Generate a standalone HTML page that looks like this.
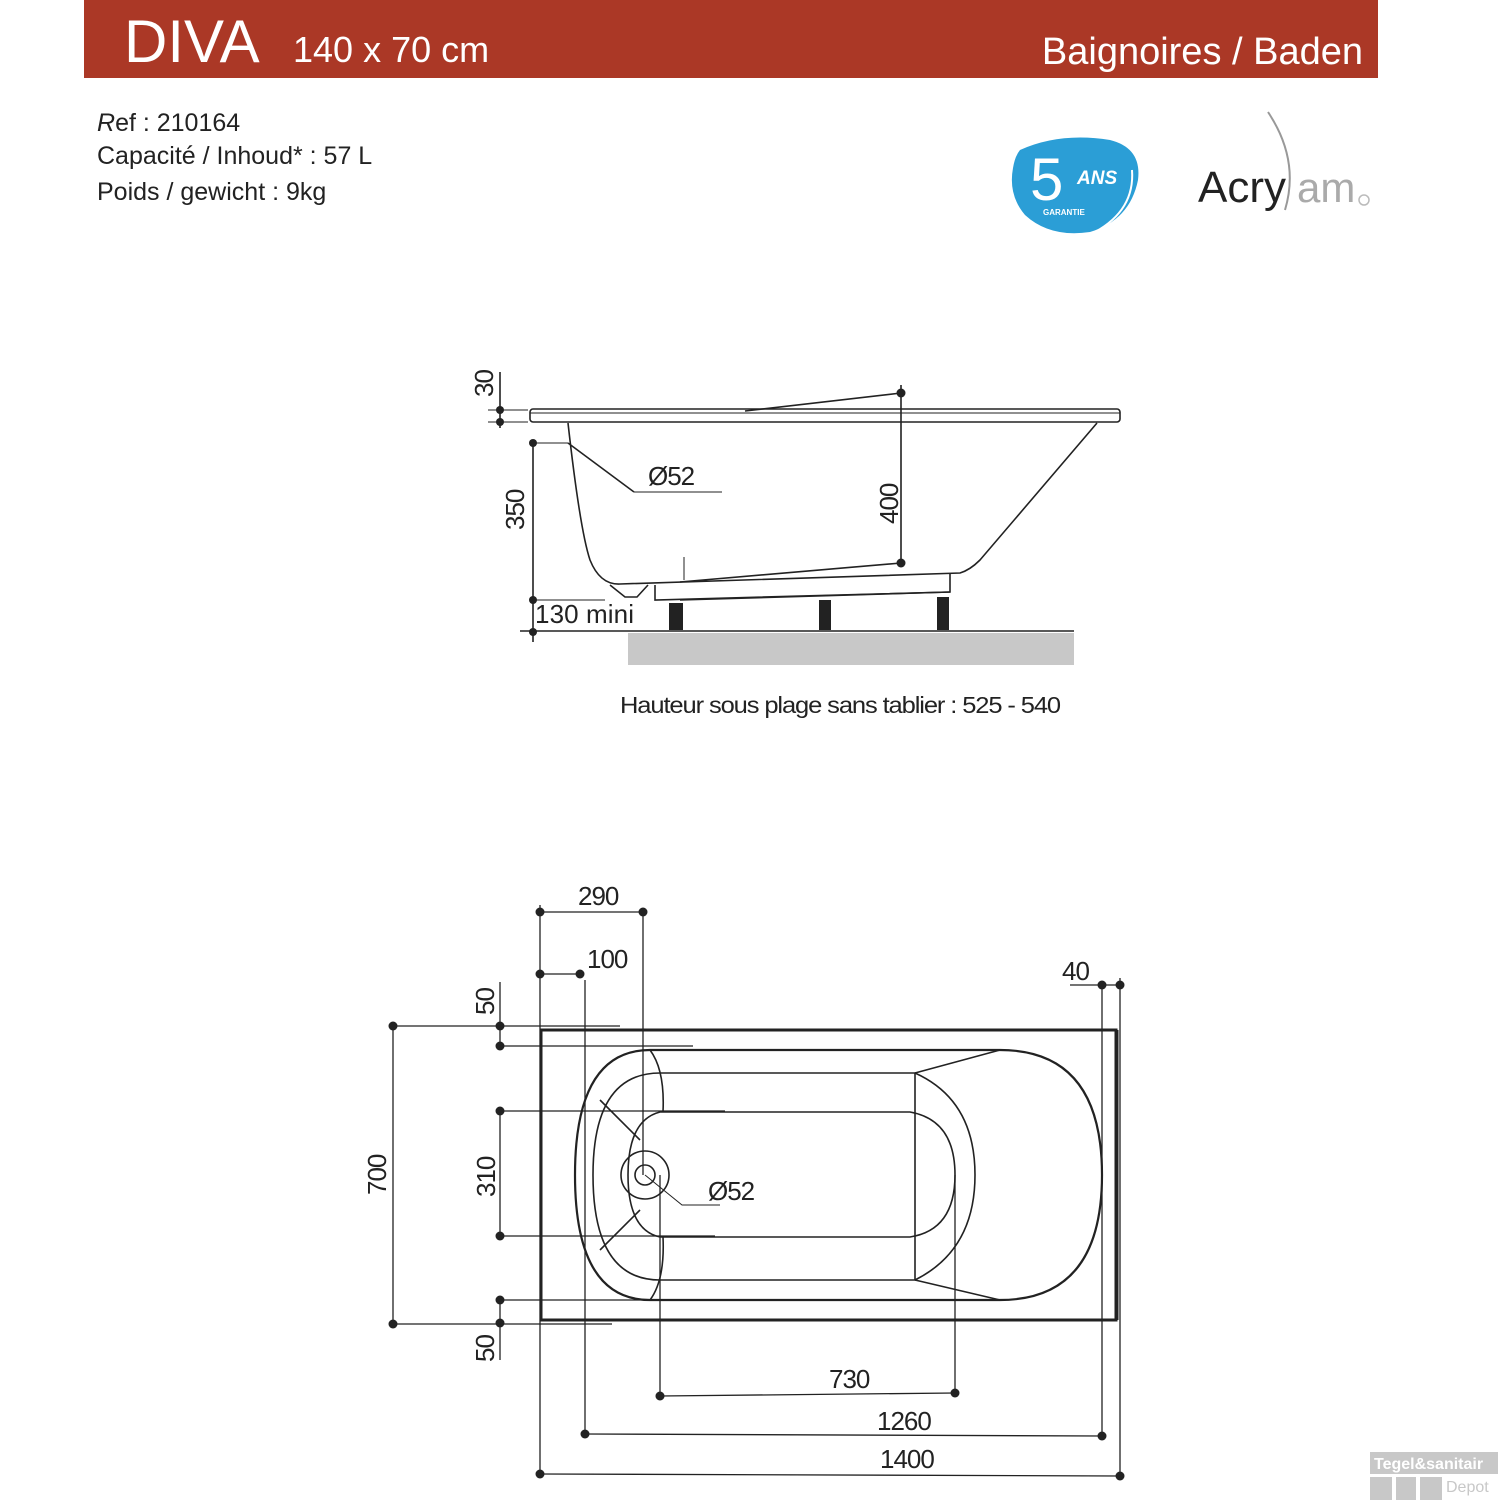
<!DOCTYPE html>
<html><head><meta charset="utf-8"><style>
html,body{margin:0;padding:0;background:#fff;width:1500px;height:1500px;overflow:hidden}
svg{display:block}
text{font-family:"Liberation Sans",sans-serif}
</style></head><body>
<svg width="1500" height="1500" viewBox="0 0 1500 1500" xmlns="http://www.w3.org/2000/svg">
<rect x="84" y="0" width="1294" height="78" fill="#ab3826"/>
<text x="124" y="62" font-size="60" fill="#fff">DIVA</text>
<text x="293" y="62" font-size="36" fill="#fff">140 x 70 cm</text>
<text x="1363" y="64" font-size="38" fill="#fff" text-anchor="end">Baignoires / Baden</text>
<g font-size="25" fill="#222">
<text x="97" y="131"><tspan font-style="italic">R</tspan>ef : 210164</text>
<text x="97" y="164">Capacité  / Inhoud* : 57 L</text>
<text x="97" y="200">Poids / gewicht : 9kg</text>
</g>
<path d="M1020 150 Q1060 132 1110 140 Q1142 148 1138 180 Q1130 220 1090 232 Q1050 238 1025 215 Q1008 195 1013 168 Q1015 156 1020 150Z" fill="#2b9ed6"/>
<path d="M1132 170 Q1135 210 1095 232" stroke="#fff" stroke-width="2" fill="none"/>
<text x="1030" y="200" font-size="60" fill="#fff">5</text>
<text x="1077" y="184" font-size="19" fill="#fff" font-weight="bold" font-style="italic">ANS</text>
<text x="1043" y="215" font-size="8" fill="#fff" font-weight="bold">GARANTIE</text>
<text x="1198" y="202" font-size="44" fill="#222">Acry</text>
<text x="1297" y="202" font-size="42" fill="#aaa">am</text>
<circle cx="1364" cy="200" r="5" fill="none" stroke="#bbb" stroke-width="1.5"/>
<path d="M1268 112 Q1300 160 1285 210" stroke="#999" stroke-width="2" fill="none"/>

<g stroke="#222" stroke-width="1.6" fill="none">
<rect x="530" y="409" width="590" height="13" rx="3"/>
<line x1="530" y1="413" x2="1120" y2="413" stroke-width="1"/>
<path d="M568 423 Q580 530 590 560 Q600 585 620 584 L960 573 Q970 570 980 560 L1097 423"/>
<path d="M610 585 L625 597 L637 597 L648 585"/>
<path d="M655 585 L655 600 L950 592 L950 573"/>
<line x1="680" y1="600" x2="950" y2="592"/>
<line x1="520" y1="631" x2="1074" y2="631"/>
<line x1="500" y1="372" x2="500" y2="428"/>
<line x1="488" y1="410" x2="528" y2="410" stroke-width="1"/>
<line x1="488" y1="422" x2="528" y2="422" stroke-width="1"/>
<line x1="533" y1="443" x2="533" y2="642"/>
<line x1="533" y1="443" x2="568" y2="443" stroke-width="1"/>
<line x1="533" y1="600" x2="605" y2="600" stroke-width="1"/>
<line x1="568" y1="443" x2="634" y2="492"/>
<line x1="634" y1="492" x2="722" y2="492" stroke-width="1"/>
<line x1="901" y1="385" x2="901" y2="563"/>
<line x1="901" y1="393" x2="745" y2="411"/>
<line x1="901" y1="563" x2="680" y2="582"/>
<line x1="684" y1="557" x2="684" y2="580" stroke-width="1"/>
</g>
<rect x="628" y="633" width="446" height="32" fill="#c8c8c8"/>
<g fill="#222">
<rect x="669" y="603" width="14" height="27"/><rect x="819" y="600" width="12" height="30"/><rect x="937" y="597" width="12" height="33"/>
<circle cx="500" cy="410" r="4"/><circle cx="500" cy="422" r="4"/>
<circle cx="533" cy="443" r="4"/><circle cx="533" cy="600" r="4"/><circle cx="533" cy="632" r="4"/>
<circle cx="901" cy="393" r="4.5"/><circle cx="901" cy="563" r="4.5"/>
</g>
<g font-size="26" fill="#222" letter-spacing="-1">
<text transform="translate(493,397) rotate(-90)">30</text>
<text transform="translate(524,530) rotate(-90)">350</text>
<text transform="translate(898,524) rotate(-90)">400</text>
<text x="648" y="485">Ø52</text>
<text x="535" y="623" textLength="98">130 mini</text>
<text x="620" y="713" font-size="23" textLength="440" lengthAdjust="spacingAndGlyphs">Hauteur sous plage sans tablier : 525 - 540</text>
</g>

<g stroke="#222" stroke-width="1.6" fill="none">
<rect x="541" y="1030" width="575" height="290" stroke-width="3"/>
<path d="M650 1050 L1000 1050 Q1102 1050 1102 1175 Q1102 1300 1000 1300 L650 1300 Q575 1300 575 1175 Q575 1050 650 1050Z" stroke-width="2.2"/>
<path d="M660 1073 L915 1073 L915 1280 L660 1280 Q593 1280 593 1175 Q593 1073 660 1073Z"/>
<path d="M915 1073 Q975 1100 975 1175 Q975 1250 915 1280"/>
<line x1="915" y1="1073" x2="1000" y2="1050"/><line x1="915" y1="1280" x2="1000" y2="1300"/>
<path d="M660 1112 L910 1112 Q955 1120 955 1175 Q955 1230 910 1237 L660 1237 Q628 1230 628 1175 Q628 1120 660 1112Z"/>
<path d="M650 1050 Q665 1070 663 1112 M650 1300 Q665 1280 663 1237 M600 1100 L640 1140 M600 1250 L640 1210"/>
<circle cx="645" cy="1175" r="24"/><circle cx="645" cy="1175" r="10"/>
<path d="M645 1175 L682 1205 L720 1205" stroke-width="1"/>
<line x1="1118" y1="1030" x2="1118" y2="1320" stroke-width="1"/>
</g>
<g stroke="#222" stroke-width="1.3" fill="none">
<line x1="540" y1="912" x2="643" y2="912"/><line x1="540" y1="974" x2="580" y2="974"/>
<line x1="540" y1="905" x2="540" y2="1478"/><line x1="585" y1="980" x2="585" y2="1436"/>
<line x1="643" y1="912" x2="643" y2="1175"/><line x1="660" y1="1175" x2="660" y2="1396"/>
<line x1="955" y1="1175" x2="955" y2="1393"/>
<line x1="660" y1="1396" x2="955" y2="1393"/>
<line x1="585" y1="1434" x2="1102" y2="1436"/>
<line x1="540" y1="1474" x2="1120" y2="1476"/>
<line x1="1070" y1="985" x2="1120" y2="985"/>
<line x1="1102" y1="985" x2="1102" y2="1436"/><line x1="1120" y1="978" x2="1120" y2="1476"/>
<line x1="393" y1="1026" x2="393" y2="1324"/>
<line x1="393" y1="1026" x2="620" y2="1026"/><line x1="393" y1="1324" x2="612" y2="1324"/>
<line x1="500" y1="982" x2="500" y2="1046"/><line x1="500" y1="1046" x2="693" y2="1046"/>
<line x1="500" y1="1111" x2="500" y2="1236"/><line x1="500" y1="1111" x2="725" y2="1111"/><line x1="500" y1="1236" x2="715" y2="1236"/>
<line x1="500" y1="1300" x2="500" y2="1360"/><line x1="500" y1="1300" x2="660" y2="1300"/>
</g>
<g fill="#222">
<circle cx="540" cy="912" r="4.5"/><circle cx="643" cy="912" r="4.5"/>
<circle cx="540" cy="974" r="4.5"/><circle cx="580" cy="974" r="4.5"/>
<circle cx="393" cy="1026" r="4.5"/><circle cx="393" cy="1324" r="4.5"/>
<circle cx="500" cy="1026" r="4.5"/><circle cx="500" cy="1046" r="4.5"/>
<circle cx="500" cy="1111" r="4.5"/><circle cx="500" cy="1236" r="4.5"/>
<circle cx="500" cy="1300" r="4.5"/><circle cx="500" cy="1323" r="4.5"/>
<circle cx="660" cy="1396" r="4.5"/><circle cx="955" cy="1393" r="4.5"/>
<circle cx="585" cy="1434" r="4.5"/><circle cx="1102" cy="1436" r="4.5"/>
<circle cx="540" cy="1474" r="4.5"/><circle cx="1120" cy="1476" r="4.5"/>
<circle cx="1102" cy="985" r="4.5"/><circle cx="1120" cy="985" r="4.5"/>
</g>
<g font-size="26" fill="#222" letter-spacing="-1">
<text x="578" y="905">290</text>
<text x="587" y="968">100</text>
<text x="1062" y="980">40</text>
<text x="708" y="1200">Ø52</text>
<text x="829" y="1388">730</text>
<text x="877" y="1430">1260</text>
<text x="880" y="1468">1400</text>
<text transform="translate(386,1195) rotate(-90)">700</text>
<text transform="translate(494,1015) rotate(-90)">50</text>
<text transform="translate(495,1197) rotate(-90)">310</text>
<text transform="translate(494,1362) rotate(-90)">50</text>
</g>
<rect x="1370" y="1452" width="128" height="22" fill="#c8c8c8"/>
<text x="1374" y="1469" font-size="16" font-weight="bold" fill="#fff">Tegel&amp;sanitair</text>
<rect x="1370" y="1477" width="22" height="23" fill="#c8c8c8"/><rect x="1396" y="1477" width="20" height="23" fill="#c8c8c8"/><rect x="1420" y="1477" width="22" height="23" fill="#c8c8c8"/>
<text x="1446" y="1492" font-size="16" fill="#c8c8c8">Depot</text>
</svg>
</body></html>
